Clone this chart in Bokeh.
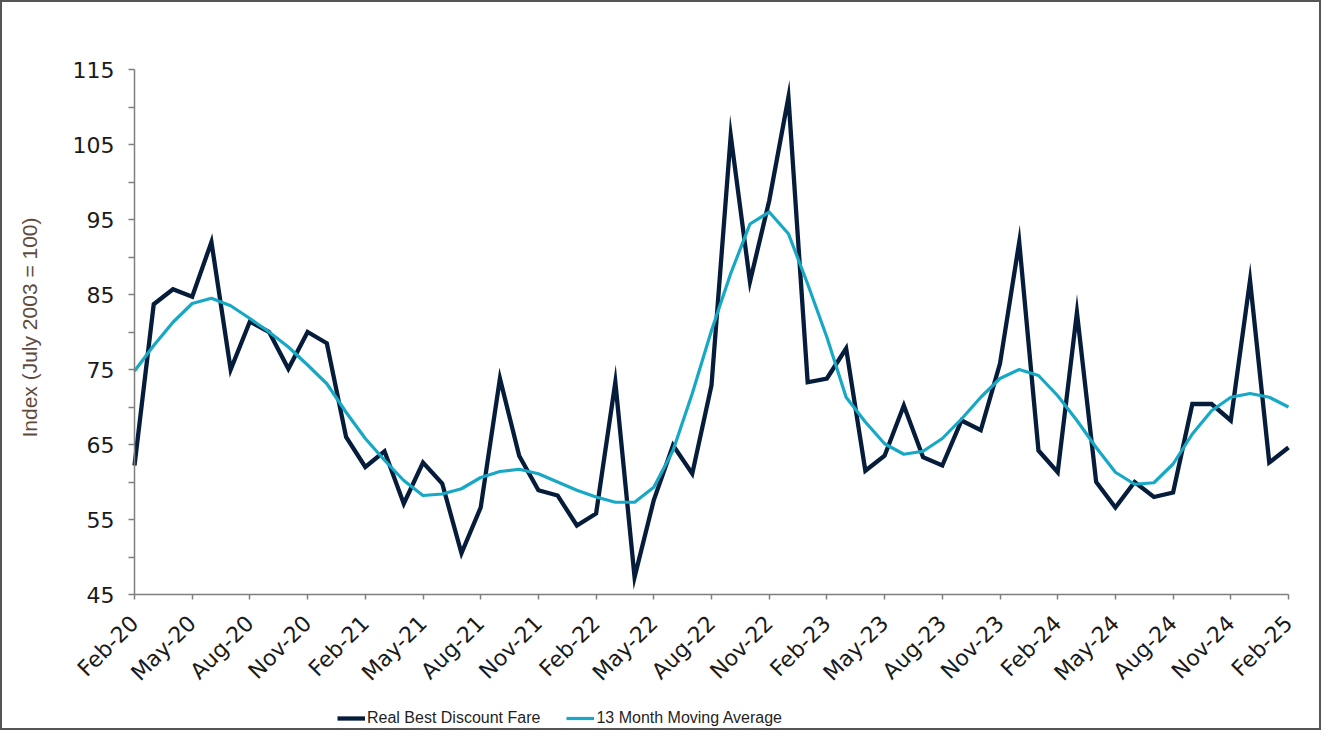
from math import pi
from bokeh.plotting import figure
from bokeh.models import Range1d, FixedTicker, Legend, LegendItem, ColumnDataSource, Label
from bokeh.embed import file_html
from bokeh.resources import INLINE

# ---- data ----
month_names = ["Jan", "Feb", "Mar", "Apr", "May", "Jun",
               "Jul", "Aug", "Sep", "Oct", "Nov", "Dec"]
months = []
for yr in range(20, 26):
    for m in month_names:
        months.append(f"{m}-{yr:02d}")
months = months[1:62]  # Feb-20 .. Feb-25

fare = [62.2, 83.7, 85.7, 84.7, 92.0, 75.0, 81.4, 80.0, 75.1, 80.0,
        78.5, 66.0, 62.0, 64.1, 57.1, 62.6, 59.8, 50.5, 56.6, 73.8,
        63.5, 58.9, 58.2, 54.2, 55.8, 73.3, 47.3, 57.6, 64.9, 61.1,
        72.9, 106.2, 86.7, 97.5, 111.3, 73.3, 73.8, 77.8, 61.5, 63.5,
        70.2, 63.3, 62.2, 68.2, 66.9, 75.8, 92.0, 64.2, 61.3, 82.6,
        60.0, 56.6, 60.0, 58.0, 58.6, 70.4, 70.4, 68.2, 86.9, 62.6,
        64.6]

mavg = [74.8, 78.2, 81.3, 83.8, 84.5, 83.5, 81.8, 80.0, 78.0, 75.6,
        73.1, 69.3, 65.8, 62.9, 60.2, 58.2, 58.4, 59.1, 60.6, 61.4,
        61.7, 61.1, 60.0, 58.9, 58.0, 57.3, 57.3, 59.3, 64.2, 71.8,
        80.2, 87.8, 94.4, 96.0, 93.1, 86.4, 79.3, 71.3, 68.0, 65.1,
        63.7, 64.1, 65.8, 68.4, 71.3, 73.8, 75.0, 74.2, 71.5, 68.2,
        64.6, 61.3, 59.7, 59.9, 62.4, 66.4, 69.5, 71.3, 71.8, 71.3,
        70.0]

y_min, y_max = 45, 115
y_ticks = [45, 55, 65, 75, 85, 95, 105, 115]
y_minor_ticks = [50, 60, 70, 80, 90, 100, 110]
x_tick_pos = list(range(0, 61, 3))
x_tick_labels = [months[i] for i in x_tick_pos]
n_last = len(months) - 1

series_names = ["Real Best Discount Fare", "13 Month Moving Average"]
y_title = "Index (July 2003 = 100)"

# ---- layout constants (pixels) ----
W, H, BORDER = 1321, 730, 2
inner_w, inner_h = W - 2 * BORDER, H - 2 * BORDER
axis_left_px, axis_right_px = 134 - BORDER, 1288 - BORDER   # x = 0 .. 60
axis_top_px, axis_bottom_px = 69 - BORDER, 594 - BORDER     # y = 115 .. 45
ppx = (axis_right_px - axis_left_px) / n_last
ppy = (axis_bottom_px - axis_top_px) / (y_max - y_min)
x_start = -axis_left_px / ppx
x_end = n_last + (inner_w - axis_right_px) / ppx
y_end = y_max + axis_top_px / ppy
y_start = y_min - (inner_h - axis_bottom_px) / ppy

src = ColumnDataSource(dict(x=list(range(len(months))), fare=fare, mavg=mavg))

p = figure(frame_width=inner_w, frame_height=inner_h,
           min_border_left=0, min_border_right=0,
           min_border_top=0, min_border_bottom=0,
           x_range=Range1d(x_start, x_end), y_range=Range1d(y_start, y_end),
           output_backend="svg", toolbar_location=None)
p.styles = {"border": f"{BORDER}px solid #555555"}
p.background_fill_color = "white"
p.border_fill_color = "white"
p.outline_line_color = None
p.xgrid.visible = False
p.ygrid.visible = False

navy = "#061c3b"
cyan = "#17a8c5"

r1 = p.line("x", "fare", source=src, line_color=navy, line_width=4.3,
            line_join="miter")
r2 = p.line("x", "mavg", source=src, line_color=cyan, line_width=3.2,
            line_join="round")

axis_color = "#7f7f7f"

# y axis, fixed at x = 0
ya = p.yaxis[0]
ya.fixed_location = 0
ya.bounds = (y_min, y_max)
ya.ticker = FixedTicker(ticks=y_ticks, minor_ticks=y_minor_ticks)
ya.axis_line_color = axis_color
ya.axis_line_width = 1.5
ya.major_tick_line_color = axis_color
ya.minor_tick_line_color = axis_color
ya.major_tick_line_width = 1.5
ya.minor_tick_line_width = 1.5
ya.major_tick_in = 0
ya.major_tick_out = 6
ya.minor_tick_in = 0
ya.minor_tick_out = 6
ya.major_label_text_font = "DejaVu Sans"
ya.major_label_text_font_size = "22px"
ya.major_label_text_color = "#1a1a1a"
ya.major_label_standoff = 14

# y axis title as a rotated label
p.add_layout(Label(x=-(axis_left_px - 27) / ppx, y=80.6,
                   text=y_title, angle=pi / 2,
                   text_align="center", text_baseline="middle",
                   text_font="Liberation Sans", text_font_size="21px",
                   text_color="#5e4b3e"))

# x axis, fixed on the y = 45 baseline
xa = p.xaxis[0]
xa.fixed_location = y_min
xa.bounds = (0, n_last)
xa.ticker = FixedTicker(ticks=x_tick_pos, minor_ticks=[])
xa.major_label_overrides = {pos: lab for pos, lab in zip(x_tick_pos, x_tick_labels)}
xa.major_label_orientation = pi / 4
xa.axis_line_color = axis_color
xa.axis_line_width = 1.5
xa.major_tick_line_color = axis_color
xa.major_tick_line_width = 1.5
xa.major_tick_in = 0
xa.major_tick_out = 5
xa.minor_tick_line_color = None
xa.major_label_text_font = "DejaVu Sans"
xa.major_label_text_font_size = "22px"
xa.major_label_text_color = "#1a1a1a"
xa.major_label_standoff = 20

# legend near the bottom of the picture
legend = Legend(items=[LegendItem(label=series_names[0], renderers=[r1]),
                       LegendItem(label=series_names[1], renderers=[r2])],
                orientation="horizontal", location=(337 - BORDER, 1),
                padding=0, margin=0, border_line_color=None,
                background_fill_alpha=0, glyph_width=28, glyph_height=18,
                label_standoff=2, spacing=26,
                label_text_font="Liberation Sans",
                label_text_font_size="16px",
                label_text_color="#1f1f1f")
p.add_layout(legend)

open("out.html", "w").write(file_html(p, INLINE))
